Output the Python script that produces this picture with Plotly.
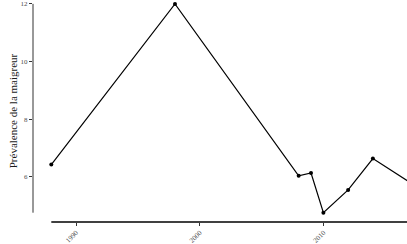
import plotly.graph_objects as go

years = [1988, 1998, 2008, 2009, 2010, 2012, 2014, 2017]
prevalence = [6.42, 12.0, 6.03, 6.13, 4.75, 5.54, 6.63, 5.8]
x_ticks = [1990, 2000, 2010]
y_ticks = [6, 8, 10, 12]
y_title = "Prévalence de la maigreur"

FONT = "Liberation Serif, Times New Roman, serif"

fig = go.Figure()
fig.add_trace(go.Scatter(
    x=years, y=prevalence, mode="lines+markers",
    line=dict(color="black", width=1.2),
    marker=dict(color="black", size=4),
    showlegend=False, cliponaxis=True,
))

# range frame (ggthemes style): axis lines span only the data range
fig.add_shape(type="line", xref="paper", yref="y", x0=0, x1=0,
              y0=min(prevalence), y1=max(prevalence),
              line=dict(color="#333333", width=1))
fig.add_shape(type="line", xref="x", yref="paper", x0=min(years), x1=max(years),
              y0=0, y1=0, line=dict(color="black", width=1.3))

fig.update_layout(
    width=407, height=244,
    margin=dict(l=33, r=0, t=0, b=22, pad=0, autoexpand=False),
    paper_bgcolor="white", plot_bgcolor="white",
    font=dict(family=FONT),
)
fig.update_xaxes(
    range=[1986.52, 2016.76], showgrid=False, zeroline=False, showline=False,
    automargin=False,
    tickmode="array", tickvals=x_ticks, ticktext=[str(t) for t in x_ticks],
    ticks="outside", ticklen=3, tickcolor="#333333", tickwidth=1,
    tickangle=-45, tickfont=dict(size=7, color="#4d4d4d", family=FONT),
)
fig.update_yaxes(
    range=[4.427, 12.135], showgrid=False, zeroline=False, showline=False,
    automargin=False,
    tickmode="array", tickvals=y_ticks, ticktext=[str(t) for t in y_ticks],
    ticks="outside", ticklen=3, tickcolor="#333333", tickwidth=1,
    tickfont=dict(size=7, color="#4d4d4d", family=FONT),
    title=dict(text=y_title, font=dict(size=11, color="#1a1a1a", family=FONT), standoff=0),
)
fig.write_html(
    "out.html",
    config={"displayModeBar": False},
    post_script="document.body.style.margin='0';document.body.style.overflow='hidden';",
)
